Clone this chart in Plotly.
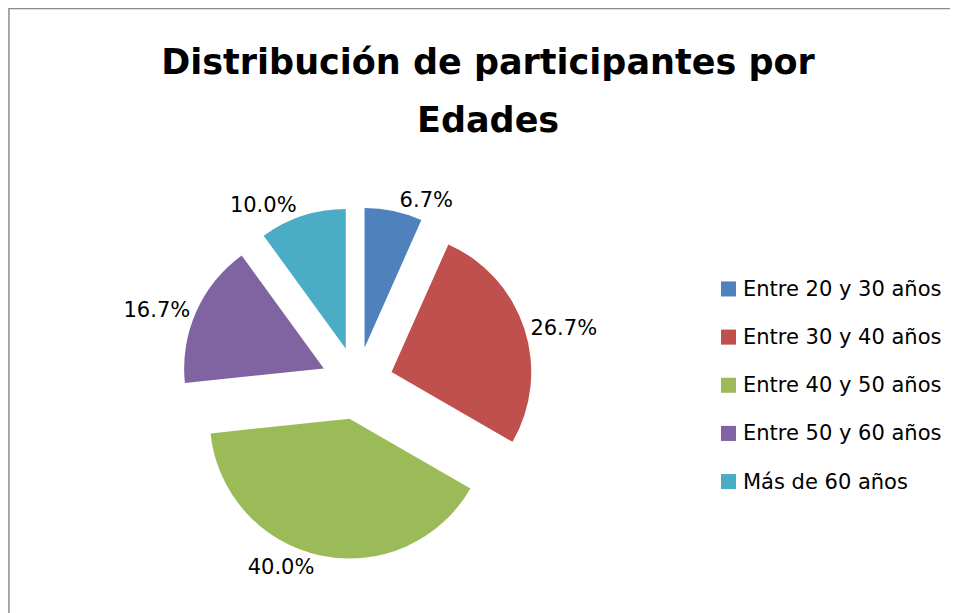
import plotly.graph_objects as go

categories = ["Entre 20 y 30 años", "Entre 30 y 40 años", "Entre 40 y 50 años",
              "Entre 50 y 60 años", "Más de 60 años"]
participants = [2, 8, 12, 5, 3]
colors = ["#4F81BD", "#C0504D", "#9BBB59", "#8064A2", "#4BACC6"]
title_line1 = "Distribución de participantes por"
title_line2 = "Edades"

W, H = 950, 649
OFF = 8
HP = 597  # pixel height used for layout positions
FONT = "DejaVu Sans"


def px(x):
    return (x - OFF) / W


def py(y):
    return 1 - (y - OFF) / HP


fig = go.Figure()
fig.add_trace(go.Pie(
    labels=categories,
    values=participants,
    marker=dict(colors=colors, line=dict(width=0)),
    sort=False,
    direction="clockwise",
    rotation=0,
    pull=[0.26] * len(categories),
    textposition="outside",
    texttemplate="%{percent:.1%}",
    outsidetextfont=dict(family=FONT, size=21, color="#000000"),
    domain=dict(x=[px(357 - 176), px(357 + 176)], y=[py(382 + 176), py(382 - 176)]),
    showlegend=False,
    hoverinfo="label+percent",
))

shapes = [dict(type="rect", xref="paper", yref="paper",
               x0=0.001, x1=1.05, y0=-0.2, y1=0.999,
               line=dict(color="#8C8C8C", width=1.5), fillcolor="rgba(0,0,0,0)")]
annotations = [dict(text=title_line2, xref="paper", yref="paper",
                    x=px(488), y=py(120), xanchor="center", yanchor="middle",
                    showarrow=False, font=dict(family=FONT, size=35, color="#000000", weight="bold"))]

row_y0 = 288
row_gap = 48
for i, (cat, col) in enumerate(zip(categories, colors)):
    yc = row_y0 + i * row_gap
    shapes.append(dict(type="rect", xref="paper", yref="paper",
                       x0=px(721), x1=px(736), y0=py(yc + 7.5), y1=py(yc - 7.5),
                       line=dict(width=0), fillcolor=col))
    annotations.append(dict(text=cat, xref="paper", yref="paper",
                            x=px(741), y=py(yc), xanchor="left", yanchor="middle",
                            showarrow=False, font=dict(family=FONT, size=21, color="#000000")))

fig.update_layout(
    width=W, height=H,
    margin=dict(l=0, r=0, t=0, b=0),
    paper_bgcolor="#FFFFFF",
    plot_bgcolor="#FFFFFF",
    title=dict(text=title_line1, x=px(488), xanchor="center", y=py(62), yanchor="middle",
               yref="paper", font=dict(family=FONT, size=35, color="#000000", weight="bold")),
    shapes=shapes,
    annotations=annotations,
    showlegend=False,
)

fig.write_html("out.html")
